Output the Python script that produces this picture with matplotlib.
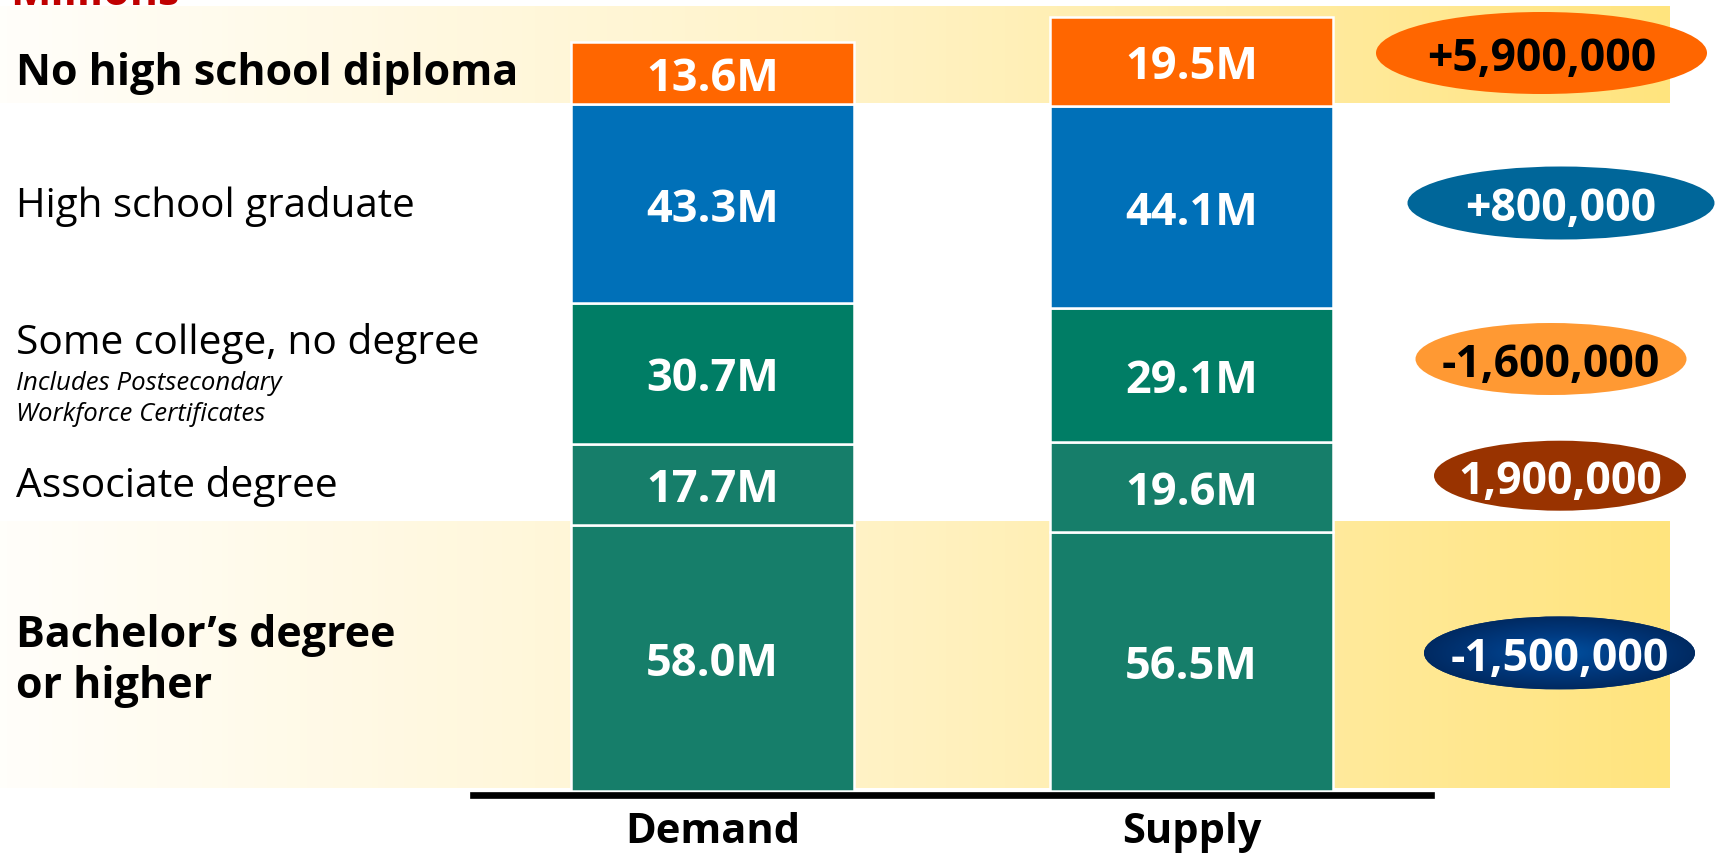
import numpy as np
import matplotlib.pyplot as plt
from matplotlib.patches import Ellipse
from matplotlib.colors import LinearSegmentedColormap

plt.rcParams['font.family'] = ['Open Sans', 'DejaVu Sans']

# data (millions of workers), stacked bottom -> top
groups = ['Demand', 'Supply']
demand = [58.0, 17.7, 30.7, 43.3, 13.6]
supply = [56.5, 19.6, 29.1, 44.1, 19.5]
gap_labels = ['-1,500,000', '1,900,000', '-1,600,000', '+800,000', '+5,900,000']

seg_colors = ['#167e6a', '#167e6a', '#007d65', '#0070b8', '#ff6600']

# pixel scale of the original slide
W, H = 1716, 854
base_px = 62          # baseline distance from bottom
px_per_m = 4.587

fig = plt.figure(figsize=(W / 100, H / 100), dpi=100)

# background layer in pixel coords (bands, side labels, gap ellipses)
bg = fig.add_axes([0, 0, 1, 1])
band_cmap = LinearSegmentedColormap.from_list('band', ['#fffefa', '#fff3c8', '#ffe47e'])
grad = np.linspace(0, 1, 256)[None, :]
bg.imshow(grad, cmap=band_cmap, extent=(0, 1670, 103.5, 7.3), aspect='auto', zorder=0)
bg.imshow(grad, cmap=band_cmap, extent=(0, 1670, 789, 522.7), aspect='auto', zorder=0)

# left-side category labels
bg.text(16, 85, 'No high school diploma', fontsize=31, fontweight='bold', va='baseline')
bg.text(16, 216.7, 'High school graduate', fontsize=29, va='baseline')
bg.text(16, 354.3, 'Some college, no degree', fontsize=29.3, va='baseline')
bg.text(16, 390, 'Includes Postsecondary', fontsize=18.5, style='italic', va='baseline')
bg.text(16, 421, 'Workforce Certificates', fontsize=18.5, style='italic', va='baseline')
bg.text(16, 496.7, 'Associate degree', fontsize=29.3, va='baseline')
bg.text(16, 646.7, 'Bachelor\u2019s degree', fontsize=31, fontweight='bold', va='baseline')
bg.text(16, 698, 'or higher', fontsize=31, fontweight='bold', va='baseline')
bg.text(10, 5, 'Millions', fontsize=31, fontweight='bold', color='#c00000', va='baseline')

# gap ellipses, bottom row first
ell_pos = [(1559.5, 654, 271, 73), (1560, 476.7, 252, 70), (1551, 360, 271, 72),
           (1561, 204, 307, 73), (1541.5, 54, 331, 82)]
ell_fill = ['#003070', '#993300', '#ff9933', '#006699', '#ff6600']
ell_text = ['white', 'white', 'black', 'white', 'black']
for (cx, cy, ew, eh), fc, tc, lab in zip(ell_pos, ell_fill, ell_text, gap_labels):
    e = Ellipse((cx, cy), ew, eh, facecolor=fc, edgecolor='none', zorder=2)
    bg.add_patch(e)
    if lab == gap_labels[0]:
        # radial shading on the navy one
        xx, yy = np.meshgrid(np.linspace(-1, 1, 200), np.linspace(-1, 1, 80))
        rr = np.clip(np.sqrt(xx ** 2 + yy ** 2), 0, 1)
        navy = LinearSegmentedColormap.from_list('navy', ['#0050a0', '#003a80', '#002a62'])
        im = bg.imshow(rr, cmap=navy, extent=(cx - ew / 2, cx + ew / 2, cy + eh / 2, cy - eh / 2),
                       aspect='auto', zorder=2.5)
        im.set_clip_path(e)
    bg.text(cx, cy + 17, lab, fontsize=32, fontweight='bold', color=tc,
            ha='center', va='baseline', zorder=3)

bg.set_xlim(0, W)
bg.set_ylim(H, 0)
bg.axis('off')

# stacked bars
ax = fig.add_axes([0, base_px / H, 1, (H - base_px) / H])
ax.set_facecolor('none')
for s in ['top', 'right', 'left']:
    ax.spines[s].set_visible(False)
ax.spines['bottom'].set_position(('outward', 2.6))
ax.spines['bottom'].set_bounds(-0.5, 1.5)
ax.spines['bottom'].set_linewidth(4.8)

x = np.arange(len(groups))
bottoms = np.zeros(2)
for i in range(len(demand)):
    vals = np.array([demand[i], supply[i]])
    bc = ax.bar(x, vals, width=0.59, bottom=bottoms, color=seg_colors[i],
                edgecolor='white', linewidth=1.8)
    txts = ax.bar_label(bc, labels=[f'{v:.1f}M' for v in vals], label_type='center',
                        color='white', fontsize=32.5, fontweight='bold')
    for t in txts:
        t.set_verticalalignment('center_baseline')
    bottoms += vals

ax.set_xlim(-1.4885, 2.0954)
ax.set_ylim(0, (H - base_px) / px_per_m)
ax.set_xticks(x)
ax.set_xticklabels(groups, fontsize=30, fontweight='bold')
ax.tick_params(axis='x', length=0, pad=12)
ax.set_yticks([])

fig.savefig('out.png', dpi=100)
